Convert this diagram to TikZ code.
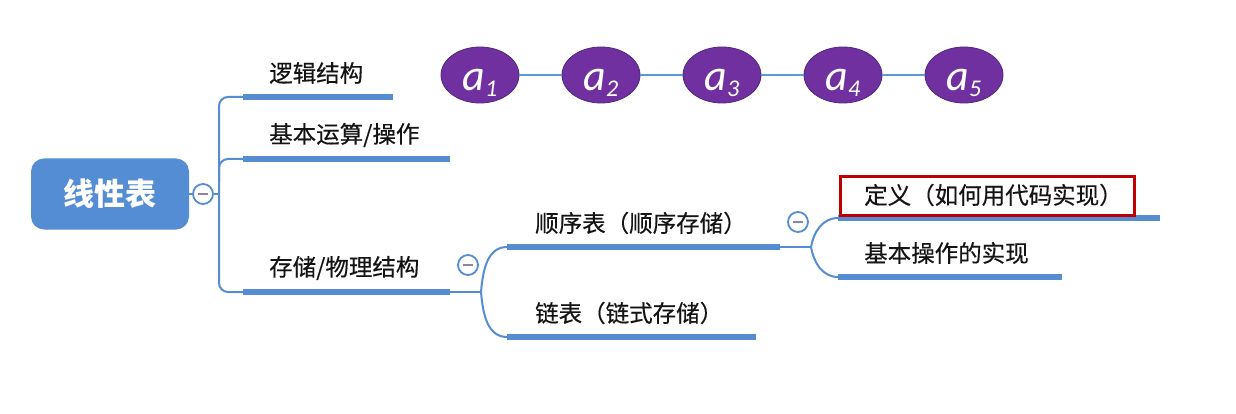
\documentclass[tikz,border=0pt]{standalone}
\usepackage{fontspec}
\setmainfont{Noto Sans CJK SC}
\newfontfamily\cjkmed{Noto Sans CJK SC}[FakeBold=0.35]
\newfontfamily\carl{Carlito}
\usetikzlibrary{shapes.geometric}
\definecolor{lineblue}{RGB}{86,140,210}
\definecolor{rootblue}{RGB}{84,141,212}
\definecolor{linkblue}{RGB}{91,155,213}
\definecolor{purp}{RGB}{112,48,160}
\definecolor{purpbd}{RGB}{78,40,128}
\definecolor{minusc}{RGB}{140,130,175}
\definecolor{hlred}{RGB}{192,0,0}
\definecolor{txt}{RGB}{20,20,20}
\tikzset{
  branch/.style={draw=lineblue, line width=2pt},
  uline/.style={draw=lineblue, line width=5.5pt},
  lbl/.style={anchor=west, inner sep=0pt, text=txt, font=\cjkmed\fontsize{23.5}{23.5}\selectfont},
  tog/.style={circle, draw=lineblue, fill=white, line width=1.8pt, minimum size=20pt, inner sep=0pt},
  minus/.style={draw=minusc, line width=2.2pt},
  elem/.style={ellipse, draw=purpbd, line width=0.8pt, fill=purp, minimum width=78pt, minimum height=56pt,
    inner sep=0pt, text=white, text height=31pt, text depth=0pt},
  rootbox/.style={rectangle, rounded corners=13pt, fill=rootblue, minimum width=158pt, minimum height=71pt,
    text=white, font=\fontsize{31}{31}\selectfont\bfseries},
  hlbox/.style={rectangle, draw=hlred, line width=3pt, minimum width=294pt, minimum height=38pt, inner sep=0pt},
  link/.style={draw=linkblue, line width=2pt}
}
\newcommand{\elt}[1]{{\carl\itshape\fontsize{44}{44}\selectfont a\raisebox{-6pt}{\fontsize{24}{24}\selectfont #1}}}
\begin{document}
\begin{tikzpicture}[x=1pt,y=-1pt]
\useasboundingbox[fill=white] (0,0) rectangle (1236,414);

% root
\node[rootbox] (root) at (110,194) {线性表};
\node[tog] (t0) at (203,194) {};
\draw[minus] ([xshift=-5pt]t0.center) -- ([xshift=5pt]t0.center);
\coordinate (trunk) at (219,194);
\draw[branch] (root.east) -- (t0.west);
\draw[branch] (t0.east) -- (trunk);

% level 1 anchors
\coordinate (l1s) at (243,97);  \coordinate (l1e) at (393,97);
\coordinate (l2s) at (243,159); \coordinate (l2e) at (450,159);
\coordinate (l3s) at (243,292); \coordinate (l3e) at (450,292);
\draw[branch, rounded corners=9pt] (l1s) -| (trunk) |- (l3s);
\draw[branch, rounded corners=9pt] (219,182) |- (l2s);
\draw[uline] (l1s) -- (l1e);
\draw[uline] (l2s) -- (l2e);
\draw[uline] (l3s) -- (l3e);
\node[lbl] (n1) at (269,73) {逻辑结构};
\node[lbl] (n2) at (269,135) {基本运算/操作};
\node[lbl] (n3) at (269,268) {存储/物理结构};

% elements
\node[elem] (e1) at (480,75) {\elt{1}};
\node[elem] (e2) at (601,75) {\elt{2}};
\node[elem] (e3) at (722,75) {\elt{3}};
\node[elem] (e4) at (843,75) {\elt{4}};
\node[elem] (e5) at (964,75) {\elt{5}};
\draw[link] (e1) -- (e2);
\draw[link] (e2) -- (e3);
\draw[link] (e3) -- (e4);
\draw[link] (e4) -- (e5);

% level 2
\node[tog] (t1) at (468,265) {};
\draw[minus] ([xshift=-5pt]t1.center) -- ([xshift=5pt]t1.center);
\coordinate (j2) at (481,292);
\coordinate (m1s) at (507,247); \coordinate (m1e) at (780,247);
\coordinate (m2s) at (507,337); \coordinate (m2e) at (756,337);
\draw[branch] (l3e) -- (j2);
\draw[branch] (j2) to[out=85,in=180] (m1s);
\draw[branch] (j2) to[out=-85,in=180] (m2s);
\draw[uline] (m1s) -- (m1e);
\draw[uline] (m2s) -- (m2e);
\node[lbl] (n4) at (535,223) {顺序表（顺序存储）};
\node[lbl] (n5) at (535,313) {链表（链式存储）};

% level 3
\node[tog] (t2) at (798,222) {};
\draw[minus] ([xshift=-5pt]t2.center) -- ([xshift=5pt]t2.center);
\coordinate (j3) at (811,247);
\coordinate (k1s) at (838,218); \coordinate (k1e) at (1160,218);
\coordinate (k2s) at (838,277); \coordinate (k2e) at (1062,277);
\draw[branch] (m1e) -- (j3);
\draw[branch] (j3) to[out=80,in=180] (k1s);
\draw[branch] (j3) to[out=-80,in=180] (k2s);
\draw[uline] (k1s) -- (k1e);
\draw[uline] (k2s) -- (k2e);
\node[hlbox] (hl) at (987,196) {};
\node[lbl] (n6) at (864,195) {定义（如何用代码实现）};
\node[lbl] (n7) at (864,253) {基本操作的实现};
\end{tikzpicture}
\end{document}
